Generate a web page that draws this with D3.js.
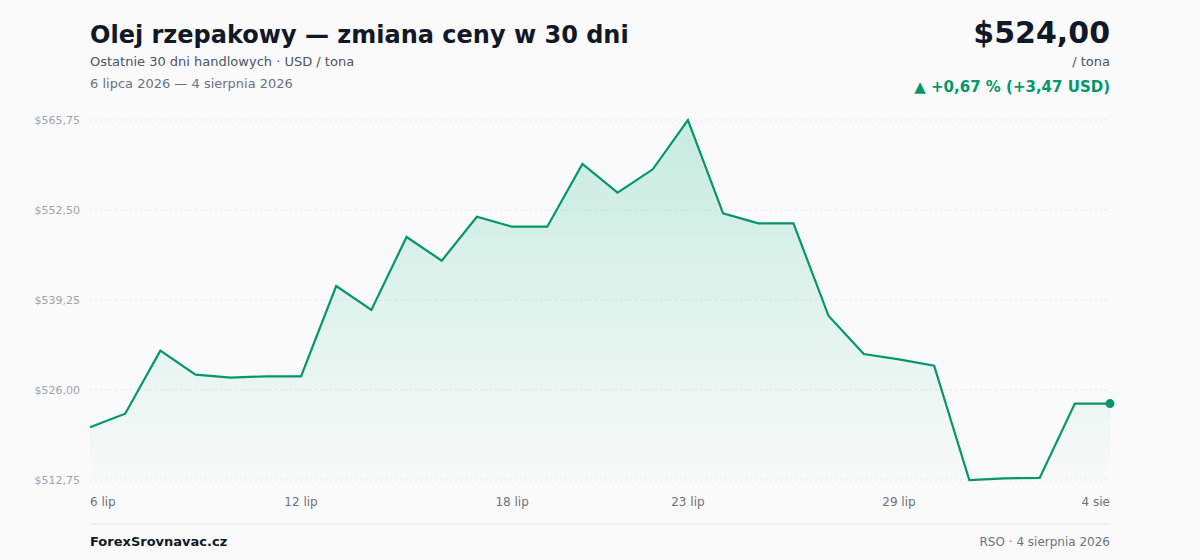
<!DOCTYPE html>
<html>
<head>
<meta charset="utf-8">
<script src="https://cdn.jsdelivr.net/npm/d3@7"></script>
<style>
  body { margin: 0; background: #fafafa; }
  svg text { font-family: "DejaVu Sans", sans-serif; }
</style>
</head>
<body>
<div id="chart"></div>
<script>
// 30 trading days, 6 lipca -> 4 sierpnia 2026
var days = ["6 lip","7 lip","8 lip","9 lip","10 lip","11 lip","12 lip","13 lip","14 lip","15 lip",
            "16 lip","17 lip","18 lip","19 lip","20 lip","21 lip","22 lip","23 lip","24 lip","25 lip",
            "26 lip","27 lip","28 lip","29 lip","30 lip","31 lip","1 sie","2 sie","3 sie","4 sie"];
var prices = [520.53, 522.51, 531.79, 528.25, 527.81, 528.02, 528.02, 541.31, 537.78, 548.53,
              545.04, 551.51, 550.04, 550.04, 559.27, 555.05, 558.49, 565.75, 552.01, 550.54,
              550.54, 536.89, 531.30, 530.52, 529.58, 512.75, 513.00, 513.04, 524.00, 524.00];
var yTicks = [512.75, 526.00, 539.25, 552.50, 565.75];
var xTickLabels = ["6 lip", "12 lip", "18 lip", "23 lip", "29 lip", "4 sie"];

var W = 1200, H = 560;
var margin = {top: 120, right: 90, bottom: 80, left: 90};
var green = "#059669";

var fmt = function(v){ return "$" + v.toFixed(2).replace(".", ","); };

var svg = d3.select("#chart").append("svg")
    .attr("width", W).attr("height", H);

svg.append("rect").attr("width", W).attr("height", H).attr("fill", "#fafafa");

var x = d3.scalePoint()
    .domain(days)
    .range([margin.left, W - margin.right]);

var y = d3.scaleLinear()
    .domain([d3.min(prices), d3.max(prices)])
    .range([H - margin.bottom, margin.top]);

// gradient under the line
var grad = svg.append("defs").append("linearGradient")
    .attr("id", "fillGrad")
    .attr("x1", 0).attr("y1", 0).attr("x2", 0).attr("y2", 1);
grad.append("stop").attr("offset", "0%").attr("stop-color", "#10b981").attr("stop-opacity", 0.22);
grad.append("stop").attr("offset", "100%").attr("stop-color", "#10b981").attr("stop-opacity", 0.01);

// grid
svg.append("g")
  .selectAll("line")
  .data(yTicks)
  .join("line")
    .attr("x1", margin.left).attr("x2", W - margin.right)
    .attr("y1", d => y(d)).attr("y2", d => y(d))
    .attr("stroke", "#e5e7eb")
    .attr("stroke-width", 1)
    .attr("stroke-dasharray", "2,3");

// y labels
svg.append("g")
  .selectAll("text")
  .data(yTicks)
  .join("text")
    .attr("x", margin.left - 10)
    .attr("y", d => y(d) + 4)
    .attr("text-anchor", "end")
    .attr("font-size", 11)
    .attr("fill", "#9ca3af")
    .text(fmt);

// area + line
var series = days.map((d, i) => ({day: d, v: prices[i]}));

svg.append("path")
    .datum(series)
    .attr("fill", "url(#fillGrad)")
    .attr("d", d3.area()
      .x(d => x(d.day))
      .y0(H - margin.bottom)
      .y1(d => y(d.v)));

svg.append("path")
    .datum(series)
    .attr("fill", "none")
    .attr("stroke", green)
    .attr("stroke-width", 2.2)
    .attr("stroke-linejoin", "miter")
    .attr("d", d3.line()
      .x(d => x(d.day))
      .y(d => y(d.v)));

var last = series[series.length - 1];
svg.append("circle")
    .attr("cx", x(last.day))
    .attr("cy", y(last.v))
    .attr("r", 4.5)
    .attr("fill", green);

// x labels
svg.append("g")
  .selectAll("text")
  .data(xTickLabels)
  .join("text")
    .attr("x", d => x(d))
    .attr("y", 506)
    .attr("text-anchor", (d, i) => i == 0 ? "start" : (i == xTickLabels.length - 1 ? "end" : "middle"))
    .attr("font-size", 12)
    .attr("fill", "#6b7280")
    .text(d => d);

// header
svg.append("text")
    .attr("x", 90).attr("y", 43)
    .attr("font-size", 24).attr("font-weight", "bold")
    .attr("fill", "#111827")
    .text("Olej rzepakowy — zmiana ceny w 30 dni");

svg.append("text")
    .attr("x", 90).attr("y", 66)
    .attr("font-size", 13).attr("fill", "#4b5563")
    .text("Ostatnie 30 dni handlowych · USD / tona");

svg.append("text")
    .attr("x", 90).attr("y", 88)
    .attr("font-size", 13).attr("fill", "#6b7280")
    .text("6 lipca 2026 — 4 sierpnia 2026");

var first = prices[0];
var diff = last.v - first;
var pct = diff / first * 100;

svg.append("text")
    .attr("x", 1110).attr("y", 43)
    .attr("text-anchor", "end")
    .attr("font-size", 30).attr("font-weight", "bold")
    .attr("fill", "#111827")
    .text(fmt(last.v));

svg.append("text")
    .attr("x", 1110).attr("y", 66)
    .attr("text-anchor", "end")
    .attr("font-size", 13).attr("fill", "#4b5563")
    .text("/ tona");

svg.append("text")
    .attr("x", 1110).attr("y", 92)
    .attr("text-anchor", "end")
    .attr("font-size", 15).attr("font-weight", "bold")
    .attr("fill", green)
    .text("▲ +" + pct.toFixed(2).replace(".", ",") + " % (+" + diff.toFixed(2).replace(".", ",") + " USD)");

// footer
svg.append("line")
    .attr("x1", 90).attr("x2", 1110)
    .attr("y1", 524).attr("y2", 524)
    .attr("stroke", "#e5e7eb").attr("stroke-width", 1);

svg.append("text")
    .attr("x", 90).attr("y", 546)
    .attr("font-size", 13).attr("font-weight", "bold")
    .attr("fill", "#111827")
    .text("ForexSrovnavac.cz");

svg.append("text")
    .attr("x", 1110).attr("y", 546)
    .attr("text-anchor", "end")
    .attr("font-size", 12).attr("fill", "#6b7280")
    .text("RSO · 4 sierpnia 2026");
</script>
</body>
</html>
